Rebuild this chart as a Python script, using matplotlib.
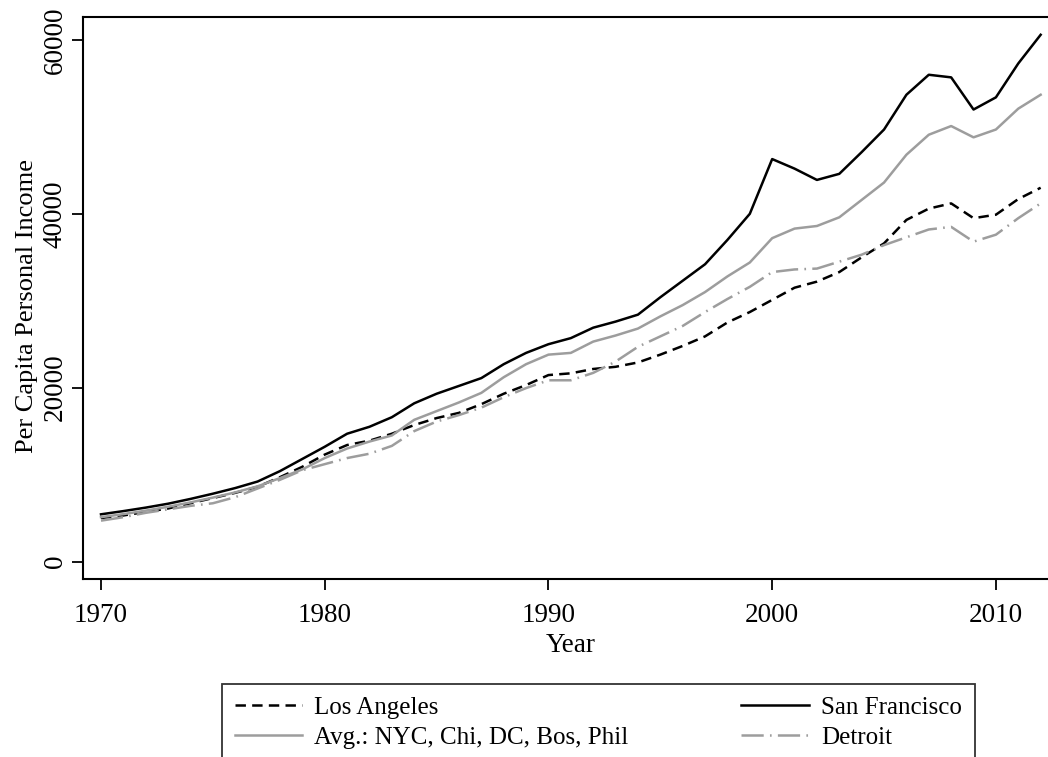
import matplotlib
matplotlib.use("Agg")
import matplotlib.pyplot as plt

plt.rcParams['font.family'] = ['Liberation Serif', 'DejaVu Serif']
plt.rcParams['lines.scale_dashes'] = False

years = list(range(1970, 2013))

los_angeles = [5000, 5300, 5700, 6100, 6700, 7300, 7900, 8600, 9700, 10900,
               12300, 13400, 13900, 14700, 15700, 16500, 17100, 18100, 19300, 20300,
               21450, 21650, 22150, 22400, 22900, 23800, 24800, 25900, 27500, 28700,
               30100, 31500, 32200, 33300, 35000, 36600, 39300, 40600, 41200, 39500,
               39900, 41700, 43000]

san_francisco = [5430, 5800, 6200, 6650, 7200, 7800, 8450, 9200, 10400, 11800,
                 13200, 14700, 15500, 16600, 18200, 19300, 20200, 21100, 22700, 24000,
                 25000, 25700, 26900, 27600, 28400, 30400, 32300, 34200, 37000, 40000,
                 46300, 45200, 43900, 44600, 47100, 49700, 53700, 56000, 55700, 52000,
                 53400, 57300, 60600]

avg_big_cities = [5100, 5450, 5850, 6300, 6800, 7350, 7950, 8650, 9600, 10600,
                  11900, 13000, 13800, 14500, 16300, 17300, 18300, 19400, 21200, 22700,
                  23800, 24000, 25300, 26000, 26800, 28200, 29500, 31000, 32800, 34400,
                  37200, 38300, 38600, 39600, 41600, 43600, 46800, 49100, 50100, 48800,
                  49700, 52100, 53700]

detroit = [4700, 5100, 5600, 6000, 6400, 6700, 7400, 8400, 9400, 10500,
           11200, 11900, 12400, 13300, 15000, 16100, 16850, 17700, 18900, 19950,
           20850, 20850, 21700, 23000, 24700, 25900, 27100, 28700, 30200, 31600,
           33300, 33600, 33700, 34500, 35300, 36400, 37300, 38200, 38500, 36800,
           37600, 39500, 41200]

labels = ["Los Angeles", "Avg.: NYC, Chi, DC, Bos, Phil", "San Francisco", "Detroit"]
xticks = [1970, 1980, 1990, 2000, 2010]
yticks = [0, 20000, 40000, 60000]

W, H = 1048, 757
fig = plt.figure(figsize=(W / 100, H / 100), dpi=100)
ax = fig.add_axes([83 / W, 1 - 579 / H, (1059 - 83) / W, (579 - 17) / H])

gray = '#9d9d9d'
lw = 1.8
l_la, = ax.plot(years, los_angeles, color='black', lw=lw, dashes=(7.5, 4.5))
l_sf, = ax.plot(years, san_francisco, color='black', lw=lw)
l_avg, = ax.plot(years, avg_big_cities, color=gray, lw=lw)
l_det, = ax.plot(years, detroit, color=gray, lw=lw, dashes=(16, 4.5, 1.2, 4.5))

ax.set_xlim(1969.196, 2012.82)
ax.set_ylim(-2013, 62645)
ax.set_xticks(xticks)
ax.set_yticks(yticks)
ax.set_xticklabels([str(t) for t in xticks])
ax.set_yticklabels([str(t) for t in yticks], rotation=90, va='center')

for s in ax.spines.values():
    s.set_linewidth(1.5)
ax.tick_params(axis='both', direction='out', length=8, width=1.3, labelsize=19.5)
ax.tick_params(axis='x', pad=9)
ax.tick_params(axis='y', pad=3)

ax.set_xlabel("Year", fontsize=19.5, labelpad=4)
ax.set_ylabel("Per Capita Personal Income", fontsize=19)
ax.yaxis.set_label_coords(-45 / (1059 - 83), 0.485)

leg = fig.legend([l_la, l_avg, l_sf, l_det], labels, ncol=2,
                 loc='upper left', bbox_to_anchor=(222 / W, 1 - 684 / H),
                 bbox_transform=fig.transFigure, borderaxespad=0,
                 fontsize=18, frameon=True, fancybox=False, edgecolor='black',
                 handlelength=2.7, handletextpad=0.5, columnspacing=4.5,
                 labelspacing=0.3, borderpad=0.5)
leg.get_frame().set_linewidth(1.3)

fig.savefig("out.png", dpi=100)
